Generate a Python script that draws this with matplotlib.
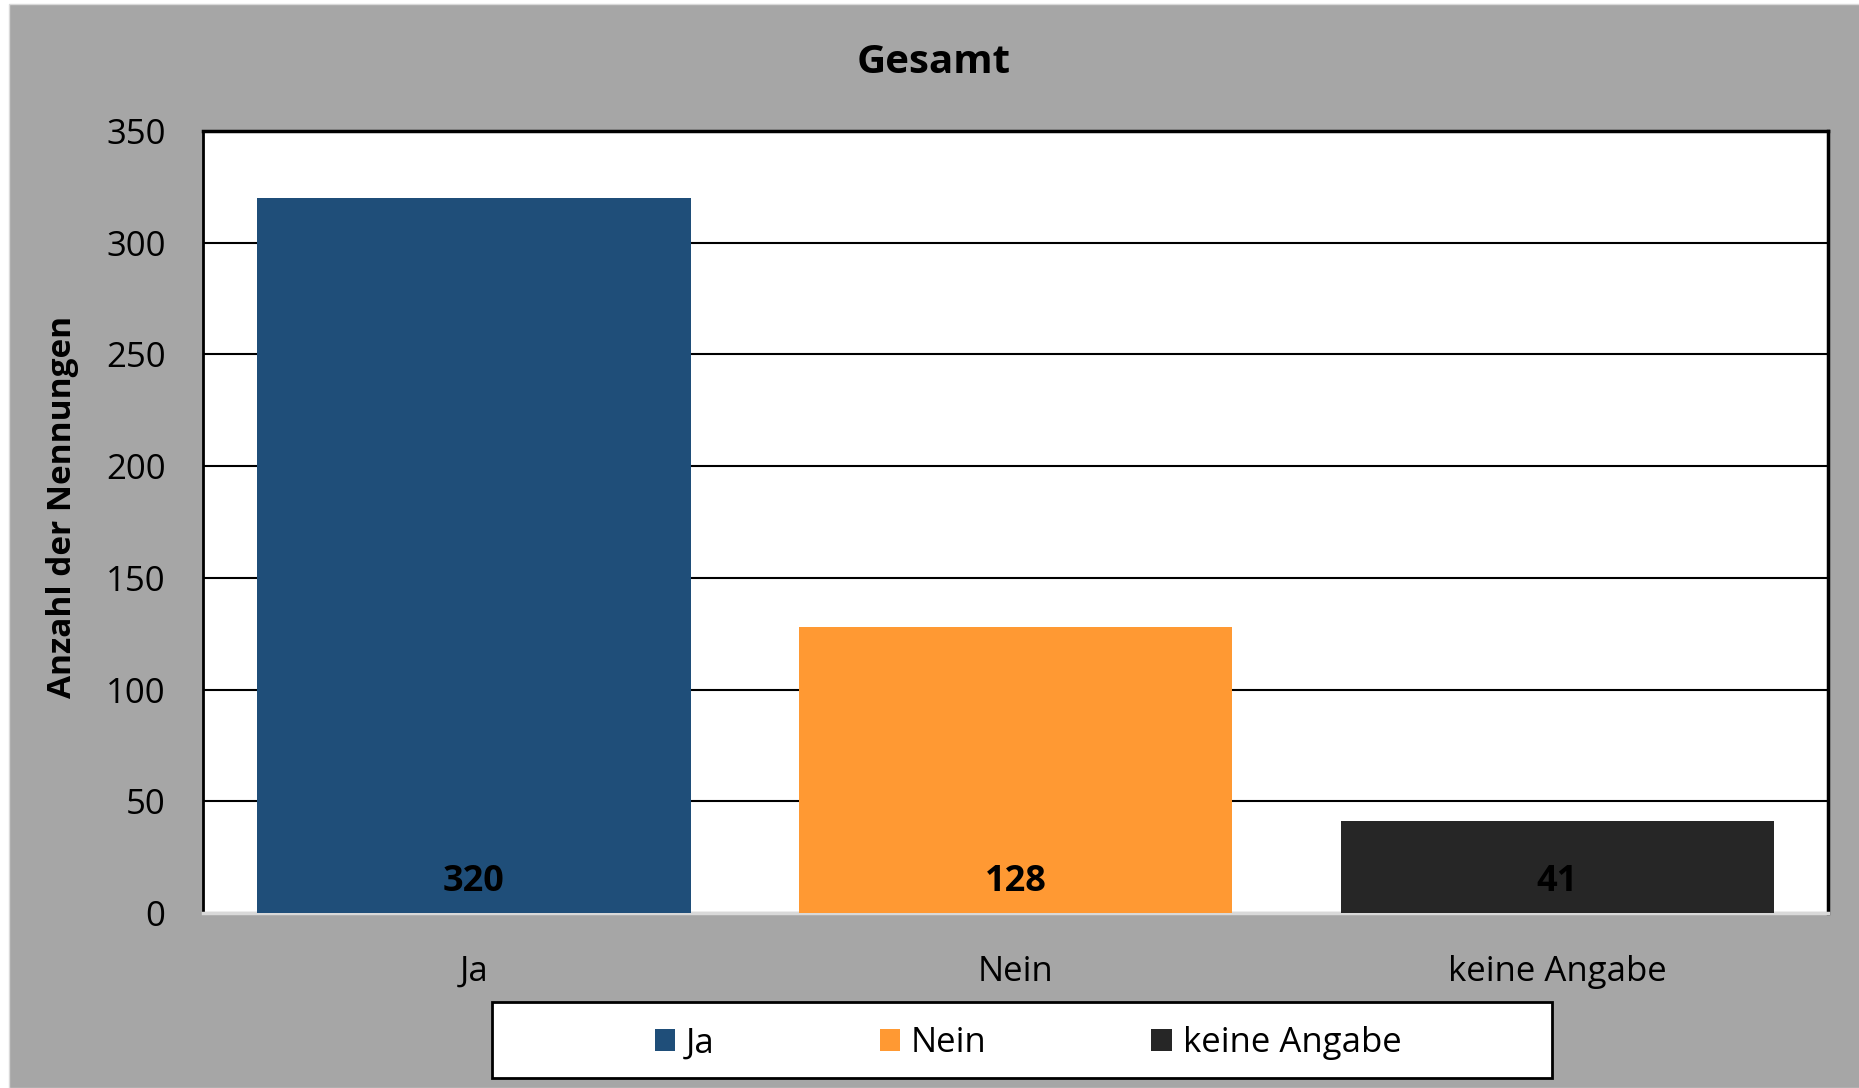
import matplotlib
matplotlib.use("Agg")
import matplotlib.pyplot as plt
from matplotlib.patches import Rectangle, Patch

categories = ["Ja", "Nein", "keine Angabe"]
values = [320, 128, 41]
colors = ["#1F4E79", "#FF9933", "#262626"]
title = "Gesamt"
ylabel = "Anzahl der Nennungen"
yticks = [0, 50, 100, 150, 200, 250, 300, 350]

plt.rcParams['font.family'] = ['Open Sans', 'DejaVu Sans']

W, H = 1859, 1088
fig = plt.figure(figsize=(W / 100, H / 100), dpi=100, facecolor="white")

# grey chart area background
fig.patches.append(Rectangle((9 / W, 0), 1, 1 - 4 / H, transform=fig.transFigure,
                             facecolor="#A6A6A6", edgecolor="#D9D9D9", linewidth=1, zorder=-10))

ax = fig.add_axes([203 / W, 1 - 913 / H, (1828 - 203) / W, (913 - 131) / H])
ax.set_facecolor("white")

x = list(range(len(categories)))
bars = ax.bar(x, values, width=0.8, color=colors, zorder=3)
ax.set_xlim(-0.5, len(categories) - 0.5)
ax.set_ylim(0, 350)
ax.set_yticks(yticks)
ax.yaxis.grid(True, color="black", linewidth=1.5, zorder=1)
ax.set_axisbelow(True)

for xi, v in zip(x, values):
    ax.annotate(str(v), xy=(xi, 0), xytext=(0, 22.5), textcoords="offset points",
                ha="center", va="center", fontsize=26, fontweight="bold",
                color="black", zorder=5)

ax.set_xticks(x)
ax.set_xticklabels(categories, fontsize=25)
ax.tick_params(axis="x", length=0, pad=30)
ax.tick_params(axis="y", length=0, pad=27, labelsize=25)

for side in ["left", "right", "top"]:
    ax.spines[side].set_color("black")
ax.spines["left"].set_linewidth(2)
ax.spines["right"].set_linewidth(2.5)
ax.spines["top"].set_linewidth(2.5)
ax.spines["bottom"].set_color("#D9D9D9")
ax.spines["bottom"].set_linewidth(2.5)

ax.set_ylabel(ylabel, fontsize=24, fontweight="bold", va="center")
ax.yaxis.set_label_coords((63 - 203) / 1625, (913 - 507) / 782)

fig.text(934 / W, 1 - 62.5 / H, title, ha="center", va="center",
         fontsize=29, fontweight="bold")

# legend box
fig.patches.append(Rectangle((492 / W, 1 - 1078 / H), (1552 - 492) / W, (1078 - 1002) / H,
                             transform=fig.transFigure, facecolor="white",
                             edgecolor="black", linewidth=2, zorder=1))
handles = [Patch(facecolor=c, edgecolor="none") for c in colors]
leg = fig.legend(handles, categories, loc="center", bbox_to_anchor=(1028 / W, 1 - 1043.5 / H),
                 ncol=3, frameon=False, fontsize=25, handlelength=0.6, handleheight=0.6,
                 handletextpad=0.3, columnspacing=4.75)
leg.set_zorder(5)

fig.savefig("out.png", dpi=100, facecolor="white")
